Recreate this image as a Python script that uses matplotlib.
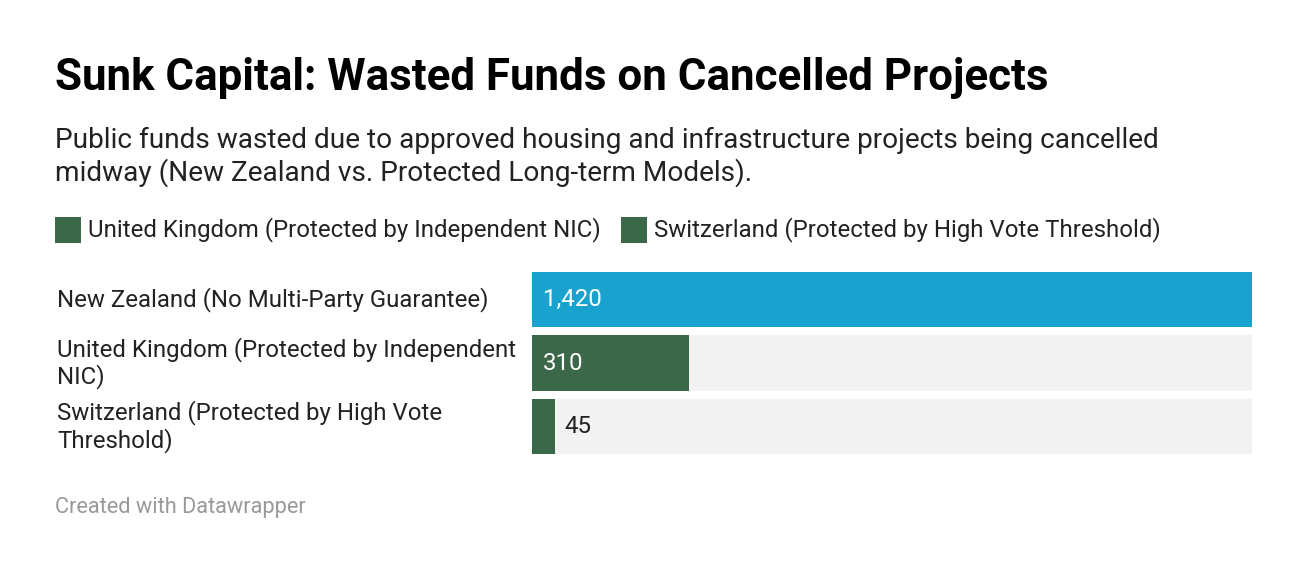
import matplotlib
matplotlib.use("Agg")
import matplotlib.pyplot as plt

categories = ["New Zealand (No Multi-Party Guarantee)",
              "United Kingdom (Protected by Independent\nNIC)",
              "Switzerland (Protected by High Vote\nThreshold)"]
values = [1420, 310, 45]
labels = ["1,420", "310", "45"]
colors = ["#1aa2ce", "#3b6849", "#3b6849"]
legend_labels = ["United Kingdom (Protected by Independent NIC)",
                 "Switzerland (Protected by High Vote Threshold)"]

plt.rcParams['font.family'] = ['Roboto', 'DejaVu Sans']
W, H = 1308, 578
fig = plt.figure(figsize=(W/100, H/100), dpi=100)
fig.patch.set_facecolor("white")

fig.text(55/W, 1-78/H, "Sunk Capital: Wasted Funds on Cancelled Projects",
         fontsize=31.6, fontweight="bold", va="center", ha="left", color="#000")
fig.text(55/W, 1-157/H, "Public funds wasted due to approved housing and infrastructure projects being cancelled\nmidway (New Zealand vs. Protected Long-term Models).",
         fontsize=20.2, va="center", ha="left", color="#222", linespacing=1.2)

# legend
for x0, lab in [(55, legend_labels[0]), (621, legend_labels[1])]:
    fig.patches.append(plt.Rectangle((x0/W, 1-243/H), 26/W, 26/H, transform=fig.transFigure,
                                     facecolor="#3b6849", edgecolor="none"))
    fig.text((x0+33)/W, 1-230/H, lab, fontsize=17.3, va="center", ha="left", color="#222")

ax = fig.add_axes([532/W, 1-454/H, 720/W, (454-272)/H])
maxv = max(values)
ys = list(range(len(values)))
h = 54/62
ax.barh(ys, [maxv]*3, height=h, color="#f2f2f2")
ax.barh(ys, values, height=h, color=colors)
ax.set_xlim(0, maxv)
ax.set_ylim(len(values)-1+h/2, -h/2)
ax.axis("off")
for y, v, lab in zip(ys, values, labels):
    if v / maxv > 0.08:
        ax.text(maxv*0.015, y, lab, color="white", fontsize=17.3, va="center", ha="left")
    else:
        ax.text(v + maxv*0.013, y, lab, color="#222", fontsize=17.3, va="center", ha="left")
    ax.text(-(532-57)/720*maxv, y, categories[y], fontsize=17.3, va="center", ha="left",
            color="#222", linespacing=1.15)

fig.text(55/W, 1-508/H, "Created with Datawrapper", fontsize=15.7, color="#999",
         va="center", ha="left")
fig.savefig("out.png", dpi=100, facecolor="white")
